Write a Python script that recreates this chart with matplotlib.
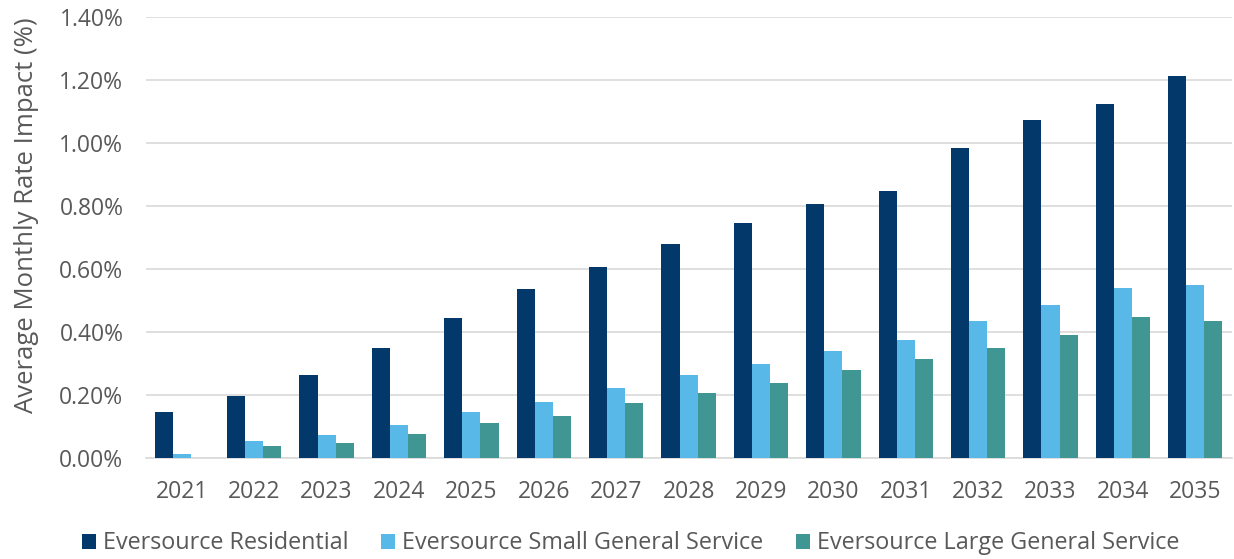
import numpy as np
import matplotlib.pyplot as plt
from matplotlib.ticker import FuncFormatter

years = ['2021', '2022', '2023', '2024', '2025', '2026', '2027', '2028',
         '2029', '2030', '2031', '2032', '2033', '2034', '2035']
residential = [0.146, 0.197, 0.263, 0.350, 0.444, 0.537, 0.606, 0.679,
               0.746, 0.806, 0.848, 0.984, 1.073, 1.124, 1.213]
small_general = [0.012, 0.054, 0.071, 0.105, 0.146, 0.178, 0.222, 0.263,
                 0.298, 0.340, 0.375, 0.435, 0.486, 0.539, 0.549]
large_general = [-0.003, 0.037, 0.048, 0.075, 0.111, 0.133, 0.175, 0.206,
                 0.238, 0.279, 0.314, 0.349, 0.390, 0.448, 0.435]

series = [
    ('Eversource Residential', residential, '#02386A'),
    ('Eversource Small General Service', small_general, '#58B8E8'),
    ('Eversource Large General Service', large_general, '#3F9693'),
]

plt.rcParams['font.family'] = ['Open Sans', 'DejaVu Sans']
text_color = '#595959'

fig = plt.figure(figsize=(12.34, 5.59), dpi=100)
ax = fig.add_axes([0.118, 0.181, 0.880, 0.789])

x = np.arange(len(years))
w = 0.25
for i, (name, vals, color) in enumerate(series):
    ax.bar(x + (i - 1) * w, vals, w, color=color, label=name, zorder=3)

ax.set_xlim(-0.5, len(years) - 0.5)
ax.set_ylim(0, 1.4)
ax.set_yticks(np.arange(0, 1.41, 0.2))
ax.yaxis.set_major_formatter(FuncFormatter(lambda v, p: f'{v:.2f}%'))
ax.set_xticks(x)
ax.set_xticklabels(years)

ax.grid(axis='y', color='#D9D9D9', linewidth=1.2, zorder=0)
for s in ['top', 'right', 'left']:
    ax.spines[s].set_visible(False)
ax.spines['bottom'].set_color('#D9D9D9')
ax.spines['bottom'].set_linewidth(1.2)
ax.tick_params(axis='both', length=0, labelsize=16.5, colors=text_color)
ax.tick_params(axis='x', pad=16)
ax.tick_params(axis='y', pad=16)

ax.set_ylabel('Average Monthly Rate Impact (%)', fontsize=18.5, color=text_color)
ax.yaxis.set_label_coords(-0.098, 0.55)

fig.legend(*ax.get_legend_handles_labels(), loc='center', bbox_to_anchor=(0.511, 0.028),
           ncol=3, frameon=False, fontsize=16.8, labelcolor=text_color,
           handlelength=0.6, handleheight=0.6, handletextpad=0.3, columnspacing=1.4)

fig.savefig('out.png', dpi=100)
